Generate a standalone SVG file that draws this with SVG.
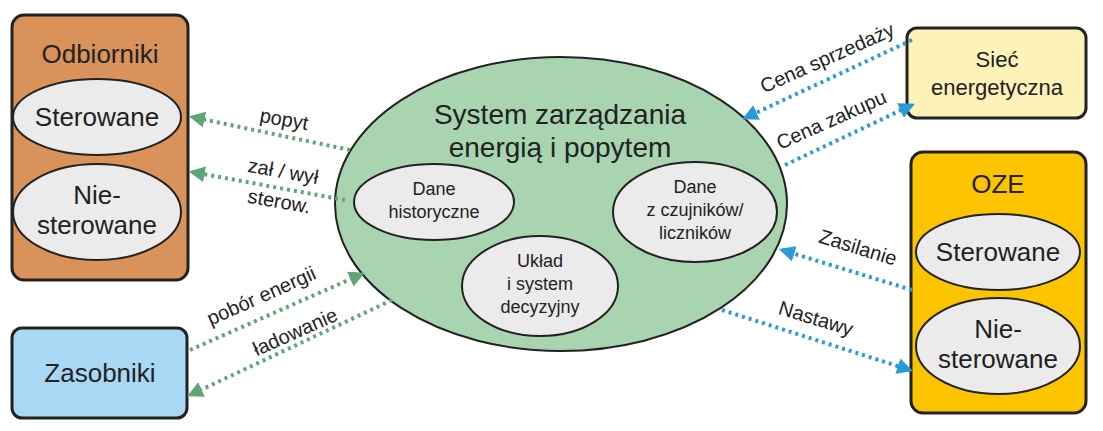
<svg xmlns="http://www.w3.org/2000/svg" width="1103" height="431" viewBox="0 0 1103 431">
<style>
text{font-family:"Liberation Sans",Arial,sans-serif;fill:#222;text-anchor:middle}
.box{stroke:#222;stroke-width:3}
.in{fill:#ebebeb;stroke:#222;stroke-width:2}
.g{stroke:#5fa577;stroke-width:4;stroke-dasharray:3 4;fill:none}
.b{stroke:#2b9ad8;stroke-width:4;stroke-dasharray:3 4;fill:none}
.t26{font-size:26px}.t28{font-size:28px}.t22{font-size:22px}.t18{font-size:18px}.t20{font-size:20px}
</style>
<defs>
<marker id="ag" viewBox="0 0 10 10" refX="8" refY="5" markerWidth="4" markerHeight="4" orient="auto" markerUnits="strokeWidth"><path d="M0,0L10,5L0,10z" fill="#5fa577"/></marker>
<marker id="ab" viewBox="0 0 10 10" refX="8" refY="5" markerWidth="4" markerHeight="4" orient="auto" markerUnits="strokeWidth"><path d="M0,0L10,5L0,10z" fill="#2b9ad8"/></marker>
</defs>
<rect width="1103" height="431" fill="#fff"/>
<g id="odbiorniki">
<rect class="box" x="12" y="15" width="176" height="265" rx="12" fill="#d8925a"/>
<text class="t26" x="100" y="63">Odbiorniki</text>
<ellipse class="in" cx="97" cy="117" rx="84" ry="38"/>
<text class="t26" x="97" y="126">Sterowane</text>
<ellipse class="in" cx="97" cy="212" rx="84" ry="48"/>
<text class="t26" x="97" y="204">Nie-</text>
<text class="t26" x="97" y="234">sterowane</text>
</g>
<g id="zasobniki">
<rect class="box" x="12" y="328" width="175" height="90" rx="10" fill="#a9d8f5"/>
<text class="t26" x="100" y="382">Zasobniki</text>
</g>
<g id="siec">
<rect class="box" x="907" y="28" width="179" height="90" rx="10" fill="#fdf3b8"/>
<text class="t22" x="997" y="67">Sieć</text>
<text class="t22" x="997" y="95">energetyczna</text>
</g>
<g id="oze">
<rect class="box" x="911" y="152" width="175" height="261" rx="12" fill="#fcc400"/>
<text class="t26" x="998" y="193">OZE</text>
<ellipse class="in" cx="998" cy="252" rx="82" ry="38"/>
<text class="t26" x="998" y="261">Sterowane</text>
<ellipse class="in" cx="998" cy="346" rx="82" ry="48"/>
<text class="t26" x="998" y="338">Nie-</text>
<text class="t26" x="998" y="368">sterowane</text>
</g>
<g id="system">
<ellipse cx="561" cy="204" rx="226" ry="147" fill="#a8d5b0" stroke="#222" stroke-width="2"/>
<text class="t28" x="560" y="124">System zarządzania</text>
<text class="t28" x="560" y="157">energią i popytem</text>
<ellipse class="in" cx="434" cy="202" rx="80" ry="38"/>
<text class="t18" x="434" y="195">Dane</text>
<text class="t18" x="434" y="218">historyczne</text>
<ellipse class="in" cx="695" cy="212" rx="82" ry="50"/>
<text class="t18" x="695" y="193">Dane</text>
<text class="t18" x="695" y="216">z czujników/</text>
<text class="t18" x="695" y="239">liczników</text>
<ellipse class="in" cx="540" cy="286" rx="78" ry="50"/>
<text class="t18" x="540" y="267">Układ</text>
<text class="t18" x="540" y="290">i system</text>
<text class="t18" x="540" y="313">decyzyjny</text>
</g>
<g id="connectors">
<path class="g" d="M350,150L192,117" marker-end="url(#ag)"/>
<path class="g" d="M345,200L192,172" marker-end="url(#ag)"/>
<path class="g" d="M190,350L362,274" marker-end="url(#ag)"/>
<path class="g" d="M392,300L190,395" marker-end="url(#ag)"/>
<path class="b" d="M912,40L745,118" marker-end="url(#ab)"/>
<path class="b" d="M785,165L912,105" marker-end="url(#ab)"/>
<path class="b" d="M912,290L782,250" marker-end="url(#ab)"/>
<path class="b" d="M722,310L910,370" marker-end="url(#ab)"/>
<text class="t20" transform="translate(283,126) rotate(10)">popyt</text>
<text class="t20" transform="translate(282,178) rotate(10)">zał / wył</text>
<text class="t20" transform="translate(278,208) rotate(10)">sterow.</text>
<text class="t20" transform="translate(264,302) rotate(-24)">pobór energii</text>
<text class="t20" transform="translate(298,338) rotate(-24)">ładowanie</text>
<text class="t20" transform="translate(830,64) rotate(-24)">Cena sprzedaży</text>
<text class="t20" transform="translate(834,126) rotate(-24)">Cena zakupu</text>
<text class="t20" transform="translate(856,254) rotate(17)">Zasilanie</text>
<text class="t20" transform="translate(814,325) rotate(17)">Nastawy</text>
</g>
</svg>
